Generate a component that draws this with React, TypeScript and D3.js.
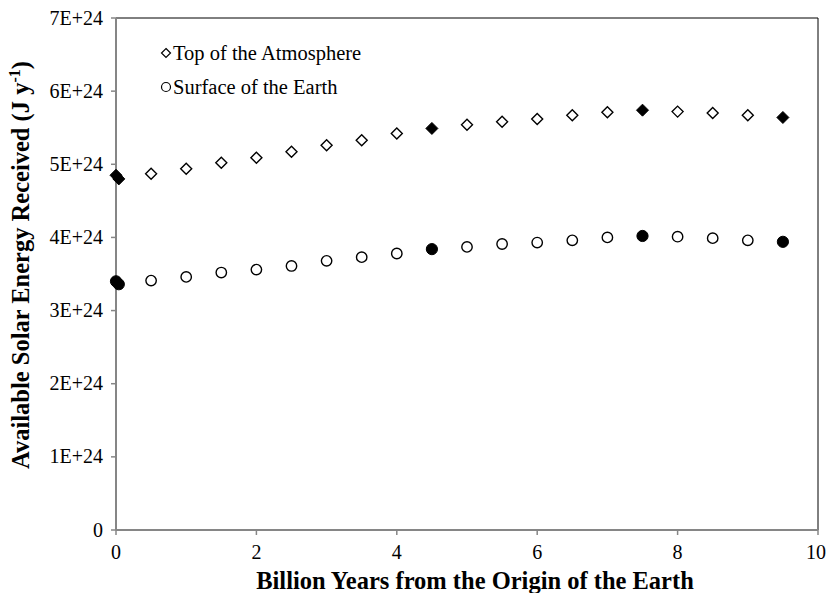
import React from "react";
import * as d3 from "d3";

const openX = [0.5, 1, 1.5, 2, 2.5, 3, 3.5, 4, 5, 5.5, 6, 6.5, 7, 8, 8.5, 9];
const toaOpen = [4.87, 4.94, 5.02, 5.09, 5.17, 5.26, 5.33, 5.42, 5.54, 5.58, 5.62, 5.67, 5.71, 5.72, 5.70, 5.67];
const surfOpen = [3.41, 3.46, 3.52, 3.56, 3.61, 3.68, 3.73, 3.78, 3.87, 3.91, 3.93, 3.96, 4.0, 4.01, 3.99, 3.96];

const filledX = [0, 0.04, 4.5, 7.5, 9.5];
const toaFilled = [4.85, 4.80, 5.49, 5.74, 5.64];
const surfFilled = [3.40, 3.36, 3.84, 4.02, 3.94];

const xTicks = [0, 2, 4, 6, 8, 10];
const yTicks = [0, 1, 2, 3, 4, 5, 6, 7];
const yTickLabels = ["0", "1E+24", "2E+24", "3E+24", "4E+24", "5E+24", "6E+24", "7E+24"];

const legendLabels = ["Top of the Atmosphere", "Surface of the Earth"];
const xTitle = "Billion Years from the Origin of the Earth";

const W = 826;
const H = 593;
const M = { left: 116, right: 818, top: 18, bottom: 530 };
const FONT = "'Times New Roman', 'Liberation Serif', serif";
const AXIS = "#868686";

const diamondPath = (cx: number, cy: number, h: number) =>
  `M${cx},${cy - h}L${cx + h},${cy}L${cx},${cy + h}L${cx - h},${cy}Z`;

export default function App() {
  const x = d3.scaleLinear().domain([0, 10]).range([M.left, M.right]);
  const y = d3.scaleLinear().domain([0, 7]).range([M.bottom, M.top]);

  return (
    <svg width={W} height={H} style={{ position: "absolute", left: 0, top: 0, background: "#fff" }} fontFamily={FONT}>
      <rect x={0} y={0} width={W} height={H} fill="#fff" />
      {/* top and right borders */}
      <line x1={M.left} x2={M.right} y1={M.top} y2={M.top} stroke="#000" strokeWidth={1} />
      <line x1={M.right} x2={M.right} y1={M.top} y2={M.bottom} stroke="#000" strokeWidth={1} />
      {/* axes */}
      <line x1={M.left} x2={M.left} y1={M.top} y2={M.bottom} stroke={AXIS} strokeWidth={2} />
      <line x1={M.left} x2={M.right} y1={M.bottom} y2={M.bottom} stroke={AXIS} strokeWidth={2} />
      {yTicks.map((t, i) => (
        <g key={"y" + i}>
          <line x1={M.left - 5} x2={M.left} y1={y(t)} y2={y(t)} stroke={AXIS} strokeWidth={1.5} />
          <text x={M.left - 13} y={y(t)} dy="0.33em" textAnchor="end" fontSize={20} fill="#000">
            {yTickLabels[i]}
          </text>
        </g>
      ))}
      {xTicks.map((t, i) => (
        <g key={"x" + i}>
          <line x1={x(t)} x2={x(t)} y1={M.bottom} y2={M.bottom + 5} stroke={AXIS} strokeWidth={1.5} />
          <text x={x(t)} dx={i === xTicks.length - 1 ? -2 : 0} y={559} textAnchor="middle" fontSize={20} fill="#000">
            {String(t)}
          </text>
        </g>
      ))}
      {/* titles */}
      <text x={475} y={589} textAnchor="middle" fontSize={24.5} fontWeight="bold" fill="#000">
        {xTitle}
      </text>
      <text
        transform={`translate(29,265) rotate(-90)`}
        textAnchor="middle"
        fontSize={24.5}
        fontWeight="bold"
        fill="#000"
      >
        Available Solar Energy Received (J y
        <tspan fontSize={16} dy={-9}>-1</tspan>
        <tspan dy={9}>)</tspan>
      </text>
      {/* open markers */}
      {openX.map((v, i) => (
        <path key={"td" + i} d={diamondPath(x(v), y(toaOpen[i]), 5.5)} fill="#fff" stroke="#000" strokeWidth={1.4} />
      ))}
      {openX.map((v, i) => (
        <circle key={"sc" + i} cx={x(v)} cy={y(surfOpen[i])} r={5.2} fill="#fff" stroke="#000" strokeWidth={1.4} />
      ))}
      {/* filled markers */}
      {filledX.map((v, i) => (
        <path key={"tf" + i} d={diamondPath(x(v), y(toaFilled[i]), 6)} fill="#000" stroke="#000" strokeWidth={1} />
      ))}
      {filledX.map((v, i) => (
        <circle key={"sf" + i} cx={x(v)} cy={y(surfFilled[i])} r={5.6} fill="#000" stroke="#000" strokeWidth={1} />
      ))}
      {/* legend */}
      <path d={diamondPath(166, 53, 4.5)} fill="#fff" stroke="#000" strokeWidth={1.2} />
      <text x={173} y={60} fontSize={20.5} fill="#000">{legendLabels[0]}</text>
      <circle cx={166} cy={87} r={4.5} fill="#fff" stroke="#000" strokeWidth={1.2} />
      <text x={173} y={94} fontSize={20.5} fill="#000">{legendLabels[1]}</text>
    </svg>
  );
}
